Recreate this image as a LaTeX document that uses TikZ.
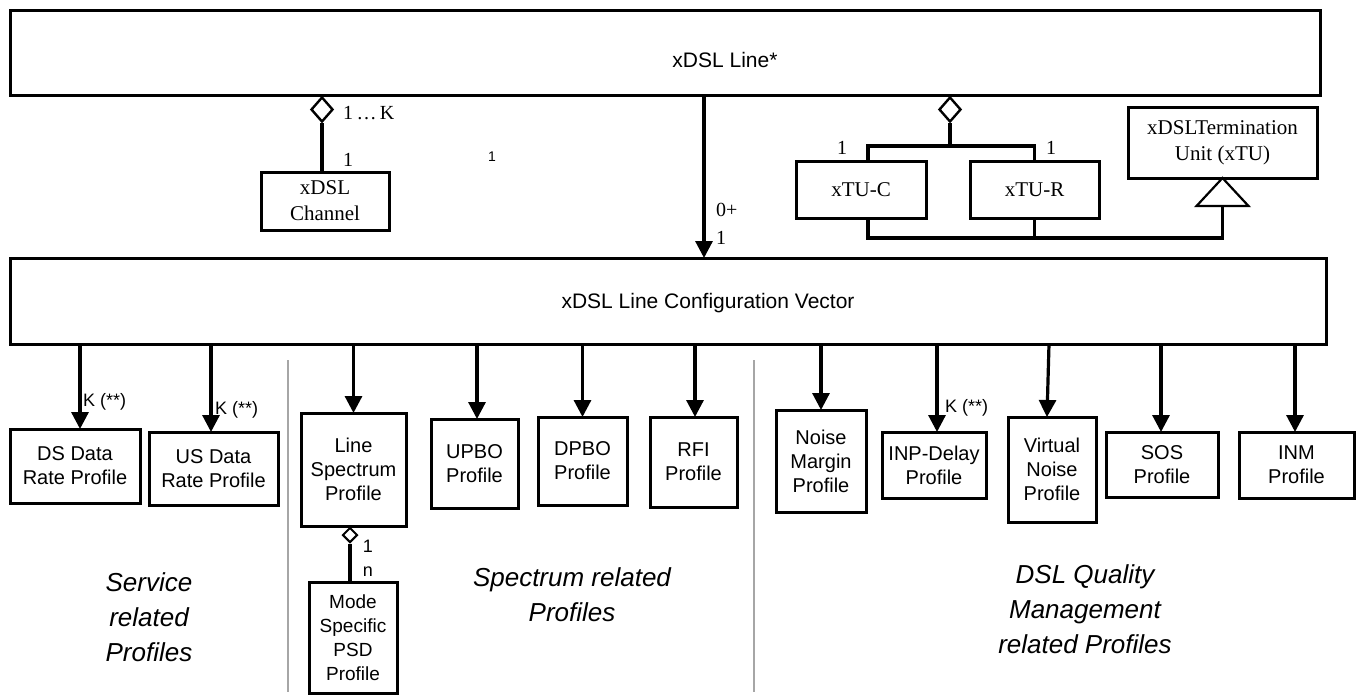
\documentclass[tikz,border=0pt]{standalone}
\usepackage{fontspec}
\setmainfont{Liberation Serif}
\setsansfont{Liberation Sans}
\usetikzlibrary{arrows.meta,shapes.geometric,calc}
\newcommand{\fsz}[2]{\fontsize{#1}{#2}\selectfont}
\begin{document}
\begin{tikzpicture}[x=1pt,y=-1pt,
  box/.style={draw, line width=3pt, inner sep=0pt, outer sep=0pt, align=center, anchor=north west},
  sb/.style={box, font=\sffamily\fsz{20}{24}},
  rb/.style={box, font=\rmfamily\fsz{21}{26}},
  conn/.style={line width=3.2pt},
  arr/.style={conn, -{Triangle[width=17pt,length=17pt]}},
  agg/.style={diamond, draw, line width=2.4pt, fill=white, inner sep=0pt, minimum width=22pt, minimum height=25pt},
  lbl/.style={inner sep=0pt, font=\sffamily\fsz{18}{20}},
  rlbl/.style={inner sep=0pt, font=\rmfamily\fsz{20}{22}},
  grp/.style={align=center, inner sep=0pt, font=\sffamily\itshape\fsz{26}{35}},
  divider/.style={draw=gray!70, line width=2.2pt}]
\useasboundingbox (0,0) rectangle (1362,696);

% top box
\node[box, minimum width=1310pt, minimum height=85pt] (line) at (10,10) {};
\node[inner sep=0pt, font=\sffamily\fsz{21}{24}] (lineLbl) at (725,60) {xDSL Line*};

% configuration vector
\node[box, minimum width=1316pt, minimum height=86pt] (cfg) at (10,258) {};
\node[inner sep=0pt, font=\sffamily\fsz{21}{24}] (cfgLbl) at (708,303) {xDSL Line Configuration Vector};

% xDSL channel
\node[agg] (d1) at (322,109.5) {};
\node[rb, minimum width=128pt, minimum height=58pt] (chan) at (261,172) {xDSL\\Channel};
\draw[conn] (d1.south) -- (d1.south |- chan.north);
\node[rlbl, anchor=west] (m1k) at (343,113) {1\,…\,K};
\node[rlbl] (m1a) at (348,160) {1};
\node[inner sep=0pt, font=\sffamily\fsz{14}{16}] (m1b) at (492,157) {1};

% main arrow
\coordinate (amain) at (704,0);
\draw[arr] (line.south -| amain) -- (cfg.north -| amain);
\node[rlbl, anchor=west] (m0p) at (716,210) {0+};
\node[rlbl, anchor=west] (m1c) at (716,238) {1};

% xTU group
\node[agg] (d2) at (950,109.5) {};
\node[rb, minimum width=130pt, minimum height=57pt] (xtuc) at (796,161) {xTU-C};
\node[rb, minimum width=129pt, minimum height=57pt] (xtur) at (970,161) {xTU-R};
\node[rb, minimum width=189pt, minimum height=71pt] (xtu) at (1128,107) {xDSLTermination\\Unit (xTU)};
\coordinate (c1) at (868,0);
\coordinate (j1) at (950,146);
\draw[conn] (d2.south) -- (j1);
\draw[conn] (xtuc.north -| c1) |- (j1) -| (xtur.north);
\node[rlbl] (m1d) at (842,148) {1};
\node[rlbl] (m1e) at (1051,148) {1};
\draw[line width=2.2pt, fill=white] (xtu.south) -- ++(26,28) coordinate (tr) -- ++(-52,0) coordinate (tl) -- cycle;
\coordinate (tb) at ($(tl)!0.5!(tr)$);
\coordinate (bot) at (1222.5,238);
\draw[conn] (xtuc.south -| c1) -- (c1 |- bot) -- (bot -| tb) -- (tb);
\draw[conn] (xtur.south) -- (xtur.south |- bot);

% dividers
\coordinate (v1t) at (288,360); \coordinate (v1b) at (288,692);
\coordinate (v2t) at (754,360); \coordinate (v2b) at (754,692);
\draw[divider] (v1t) -- (v1b);
\draw[divider] (v2t) -- (v2b);

% profile boxes
\node[sb, minimum width=130pt, minimum height=74pt] (ds) at (10,429) {DS Data\\Rate Profile};
\node[sb, minimum width=129pt, minimum height=73pt] (us) at (149,432) {US Data\\Rate Profile};
\node[sb, minimum width=105pt, minimum height=113pt] (ls) at (301,413) {Line\\Spectrum\\Profile};
\node[sb, minimum width=87pt, minimum height=89pt] (upbo) at (431,419) {UPBO\\Profile};
\node[sb, minimum width=89pt, minimum height=88pt] (dpbo) at (538,417) {DPBO\\Profile};
\node[sb, minimum width=87pt, minimum height=90pt] (rfi) at (650,417) {RFI\\Profile};
\node[sb, minimum width=90pt, minimum height=102pt] (nm) at (776,410) {Noise\\Margin\\Profile};
\node[sb, minimum width=104pt, minimum height=66pt] (inp) at (882,432) {INP-Delay\\Profile};
\node[sb, minimum width=88pt, minimum height=105pt] (vn) at (1008,417) {Virtual\\Noise\\Profile};
\node[sb, minimum width=112pt, minimum height=65pt] (sos) at (1106,432) {SOS\\Profile};
\node[sb, minimum width=115pt, minimum height=66pt] (inm) at (1239,432) {INM\\Profile};
\node[sb, minimum width=88pt, minimum height=111pt, font=\sffamily\fsz{19}{24}] (psd) at (309,582) {Mode\\Specific\\PSD\\Profile};

% arrows to profiles
\draw[arr] ([xshift=5pt]ds.north |- cfg.south) -- ([xshift=5pt]ds.north);
\draw[arr] ([xshift=-2.5pt]us.north |- cfg.south) -- ([xshift=-2.5pt]us.north);
\draw[arr] (ls.north |- cfg.south) -- (ls.north);
\draw[arr] ([xshift=2.5pt]upbo.north |- cfg.south) -- ([xshift=2.5pt]upbo.north);
\draw[arr] (dpbo.north |- cfg.south) -- (dpbo.north);
\draw[arr] ([xshift=1.5pt]rfi.north |- cfg.south) -- ([xshift=1.5pt]rfi.north);
\draw[arr] (nm.north |- cfg.south) -- (nm.north);
\draw[arr] ([xshift=3pt]inp.north |- cfg.south) -- ([xshift=3pt]inp.north);
\draw[arr] ([xshift=-3pt]vn.north |- cfg.south) -- ([xshift=-5pt]vn.north);
\draw[arr] ([xshift=-1pt]sos.north |- cfg.south) -- ([xshift=-1pt]sos.north);
\draw[arr] ([xshift=-1.5pt]inm.north |- cfg.south) -- ([xshift=-1.5pt]inm.north);

\node[lbl, anchor=west] (kds) at (83,402) {K (**)};
\node[lbl, anchor=west] (kus) at (215,410) {K (**)};
\node[lbl, anchor=west] (kinp) at (945,408) {K (**)};

% line spectrum -> mode specific PSD
\node[agg, minimum width=15pt, minimum height=15pt, line width=2pt] (d3) at (350,535) {};
\draw[conn] (d3.south) -- (d3.south |- psd.north);
\node[lbl] (m1f) at (368,546) {1};
\node[lbl] (mn) at (368,572) {n};

% group captions
\node[grp] (gSvc) at (149,617) {Service\\related\\Profiles};
\node[grp] (gSpec) at (572,595) {Spectrum related\\Profiles};
\node[grp] (gDsl) at (1085,609) {DSL Quality\\Management\\related Profiles};
\end{tikzpicture}
\end{document}
